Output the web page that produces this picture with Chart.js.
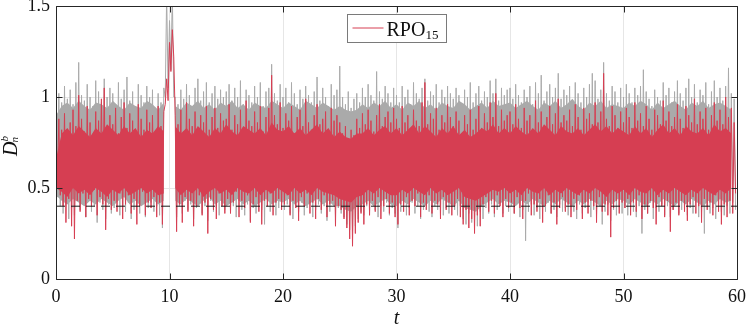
<!DOCTYPE html>
<html>
<head>
<meta charset="utf-8">
<script src="https://cdn.jsdelivr.net/npm/chart.js@4/dist/chart.umd.min.js"></script>
<style>
  html, body { margin: 0; padding: 0; background: #fff; }
  #wrap { width: 747px; height: 327px; }
</style>
</head>
<body>
<div id="wrap"><canvas id="chart" width="747" height="327"></canvas></div>
<script>
// sample spacing in t; each bin holds one high and one low sample
const STEP = 0.25;
// dense core of each signal, read every CORE_STEP (null = no dense core, at the burst)
const CORE_STEP = 0.5;
const THRESHOLD = 0.4;
const X_TICKS = [0, 10, 20, 30, 40, 50, 60];
const Y_TICKS = [0, 0.5, 1, 1.5];

const redHi = [
  0.66, 0.88, 0.82, 0.91, 0.79, 0.86, 0.93, 0.84, 1.01, 0.88, 0.81, 0.95, 0.86, 0.78, 0.92, 0.87, 0.99, 1.05, 0.83, 0.90,
  0.85, 0.94, 0.80, 0.89, 0.97, 0.83, 0.91, 0.87, 0.78, 0.96, 0.88, 0.82, 0.93, 0.86, 0.90, 0.80, 0.95, 0.84, 0.92, 1.10,
  1.30, 1.37, 0.90, 0.85, 0.93, 0.81, 0.97, 0.88, 0.84, 0.92, 0.79, 0.90, 0.86, 0.95, 0.82, 0.89, 0.94, 0.83, 0.91, 0.87,
  0.88, 0.96, 0.82, 0.90, 0.85, 0.93, 0.80, 0.98, 0.87, 0.84, 0.92, 0.86, 0.95, 0.81, 0.89, 0.94, 1.12, 0.90, 0.85, 0.97,
  0.83, 0.91, 0.87, 0.95, 0.80, 0.89, 0.93, 0.84, 0.99, 0.86, 0.82, 0.90, 0.96, 0.85, 0.88, 0.92, 0.79, 0.94, 0.87, 0.90,
  0.86, 0.80, 0.84, 0.77, 0.82, 0.79, 0.88, 0.83, 0.91, 0.85, 0.93, 0.87, 0.81, 0.90, 0.96, 0.84, 0.89, 0.92, 0.86, 0.94,
  0.88, 0.83, 0.95, 0.86, 0.90, 0.81, 0.93, 0.87, 0.84, 0.97, 1.08, 0.85, 0.91, 0.88, 0.94, 0.82, 0.90, 0.86, 0.96, 0.89,
  0.84, 0.92, 0.87, 0.80, 0.90, 0.85, 0.93, 0.82, 0.88, 0.95, 0.83, 0.91, 0.86, 0.97, 0.89, 1.02, 0.84, 0.93, 0.87, 0.90,
  0.92, 0.85, 0.96, 0.88, 0.83, 0.94, 0.87, 0.90, 0.81, 0.98, 0.86, 0.92, 0.84, 0.89, 0.95, 0.85, 0.91, 0.99, 0.86, 0.90,
  0.87, 0.93, 0.84, 0.96, 0.89, 0.82, 0.94, 0.88, 0.91, 0.85, 0.97, 0.86, 0.92, 1.13, 0.88, 0.84, 0.95, 0.90, 0.83, 0.92,
  0.86, 0.94, 0.89, 0.83, 0.97, 0.87, 0.91, 0.84, 0.95, 0.88, 0.82, 0.93, 0.90, 0.85, 0.98, 0.87, 0.92, 0.84, 0.89, 0.96,
  0.88, 0.83, 0.95, 0.90, 0.86, 0.99, 0.85, 0.92, 0.88, 0.94, 0.82, 0.90, 0.97, 0.87, 0.93, 0.85, 1.00, 0.89, 0.94, 0.86
];
const redLo = [
  0.52, 0.46, 0.40, 0.31, 0.44, 0.29, 0.22, 0.43, 0.37, 0.47, 0.34, 0.44, 0.40, 0.49, 0.35, 0.45, 0.41, 0.27, 0.44, 0.38,
  0.43, 0.37, 0.47, 0.33, 0.41, 0.46, 0.36, 0.44, 0.30, 0.40, 0.48, 0.35, 0.42, 0.39, 0.45, 0.34, 0.42, 0.30, 0.96, 0.98,
  1.14, 1.22, 0.26, 0.41, 0.31, 0.45, 0.37, 0.43, 0.29, 0.40, 0.46, 0.35, 0.42, 0.25, 0.44, 0.38, 0.33, 0.47, 0.40, 0.36,
  0.44, 0.36, 0.42, 0.48, 0.34, 0.43, 0.39, 0.46, 0.31, 0.41, 0.45, 0.37, 0.30, 0.43, 0.40, 0.47, 0.35, 0.42, 0.44, 0.38,
  0.41, 0.46, 0.35, 0.43, 0.39, 0.32, 0.45, 0.40, 0.47, 0.36, 0.42, 0.33, 0.44, 0.38, 0.46, 0.34, 0.41, 0.43, 0.29, 0.40,
  0.38, 0.33, 0.28, 0.22, 0.18, 0.25, 0.31, 0.36, 0.30, 0.41, 0.35, 0.43, 0.37, 0.45, 0.33, 0.40, 0.44, 0.36, 0.42, 0.34,
  0.30, 0.41, 0.37, 0.45, 0.35, 0.43, 0.40, 0.47, 0.34, 0.42, 0.38, 0.46, 0.36, 0.43, 0.41, 0.33, 0.45, 0.38, 0.42, 0.35,
  0.40, 0.44, 0.34, 0.30, 0.38, 0.28, 0.33, 0.25, 0.35, 0.29, 0.41, 0.45, 0.37, 0.43, 0.36, 0.46, 0.40, 0.34, 0.44, 0.39,
  0.42, 0.36, 0.45, 0.39, 0.33, 0.43, 0.47, 0.35, 0.41, 0.37, 0.44, 0.31, 0.40, 0.46, 0.36, 0.42, 0.30, 0.39, 0.45, 0.37,
  0.41, 0.34, 0.44, 0.38, 0.46, 0.33, 0.42, 0.36, 0.43, 0.40, 0.31, 0.45, 0.37, 0.41, 0.35, 0.23, 0.39, 0.43, 0.36, 0.42,
  0.39, 0.44, 0.35, 0.42, 0.37, 0.46, 0.33, 0.41, 0.36, 0.43, 0.39, 0.30, 0.45, 0.40, 0.34, 0.43, 0.26, 0.38, 0.42, 0.35,
  0.43, 0.37, 0.32, 0.41, 0.45, 0.36, 0.40, 0.31, 0.44, 0.38, 0.42, 0.35, 0.46, 0.37, 0.30, 0.41, 0.34, 0.43, 0.36, 0.47
];
const grayHi = [
  0.95, 1.02, 0.97, 1.06, 0.99, 1.04, 0.96, 1.08, 1.19, 1.01, 0.98, 1.07, 1.00, 0.95, 1.09, 1.03, 0.97, 1.10, 1.00, 1.05,
  1.02, 0.96, 1.08, 0.99, 1.04, 1.11, 0.98, 1.03, 0.95, 1.07, 1.01, 0.97, 1.06, 1.00, 1.04, 0.94, 1.02, 0.97, 1.05, 1.56,
  1.42, 1.56, 1.00, 0.96, 1.04, 0.99, 1.07, 1.01, 0.95, 1.05, 1.10, 0.98, 1.03, 1.08, 0.97, 1.02, 1.06, 0.99, 1.04, 1.00,
  1.03, 1.07, 0.98, 1.05, 1.00, 1.09, 0.96, 1.04, 1.01, 0.97, 1.06, 1.00, 1.08, 0.95, 1.03, 1.05, 1.18, 1.02, 0.98, 1.07,
  1.00, 1.05, 0.97, 1.08, 1.02, 0.96, 1.04, 0.99, 1.06, 1.01, 0.97, 1.03, 1.11, 0.98, 1.05, 1.00, 0.95, 1.07, 1.01, 1.04,
  1.17, 1.00, 0.96, 1.03, 0.94, 0.99, 1.02, 0.97, 1.05, 1.00, 1.07, 1.01, 0.98, 1.14, 1.03, 0.99, 1.06, 1.02, 0.97, 1.05,
  1.01, 0.97, 1.06, 1.00, 1.04, 0.96, 1.08, 1.02, 0.99, 1.05, 1.10, 0.98, 1.03, 1.01, 1.07, 0.97, 1.04, 1.00, 1.06, 1.02,
  0.99, 1.05, 1.01, 0.96, 1.04, 1.00, 1.08, 0.97, 1.02, 1.06, 0.98, 1.03, 1.00, 1.09, 1.02, 1.10, 0.98, 1.05, 1.01, 1.04,
  1.05, 0.99, 1.07, 1.01, 0.97, 1.04, 1.00, 1.06, 0.96, 1.08, 1.02, 1.12, 0.98, 1.03, 1.07, 1.00, 1.05, 1.13, 0.99, 1.04,
  1.01, 1.06, 0.98, 1.08, 1.02, 0.97, 1.05, 1.00, 1.07, 1.13, 1.09, 0.99, 1.04, 1.19, 1.02, 0.98, 1.06, 1.03, 0.97, 1.05,
  1.00, 1.07, 1.02, 0.97, 1.05, 1.01, 1.06, 1.15, 1.03, 0.99, 0.95, 1.04, 1.00, 0.98, 1.08, 1.01, 1.05, 0.97, 1.03, 1.09,
  1.02, 0.98, 1.05, 1.10, 1.00, 1.07, 0.97, 1.04, 1.01, 1.08, 0.96, 1.03, 1.09, 1.00, 1.05, 0.98, 1.06, 1.16, 1.02, 0.99
];
const grayLo = [
  0.45, 0.40, 0.36, 0.42, 0.33, 0.39, 0.35, 0.44, 0.38, 0.41, 0.34, 0.43, 0.37, 0.40, 0.31, 0.42, 0.38, 0.33, 0.41, 0.36,
  0.39, 0.43, 0.35, 0.40, 0.37, 0.42, 0.33, 0.38, 0.41, 0.36, 0.44, 0.34, 0.39, 0.42, 0.37, 0.40, 0.35, 0.28, 1.00, 1.05,
  1.15, 1.00, 0.34, 0.40, 0.36, 0.43, 0.38, 0.41, 0.33, 0.39, 0.42, 0.36, 0.40, 0.32, 0.43, 0.37, 0.39, 0.35, 0.41, 0.38,
  0.42, 0.37, 0.40, 0.34, 0.43, 0.38, 0.35, 0.41, 0.32, 0.39, 0.36, 0.42, 0.38, 0.30, 0.40, 0.37, 0.43, 0.35, 0.39, 0.41,
  0.38, 0.41, 0.36, 0.33, 0.40, 0.37, 0.42, 0.35, 0.39, 0.43, 0.34, 0.38, 0.41, 0.36, 0.40, 0.32, 0.37, 0.42, 0.35, 0.39,
  0.36, 0.34, 0.30, 0.27, 0.26, 0.29, 0.33, 0.37, 0.35, 0.40, 0.36, 0.41, 0.38, 0.34, 0.40, 0.37, 0.42, 0.35, 0.39, 0.36,
  0.28, 0.37, 0.41, 0.35, 0.39, 0.42, 0.36, 0.40, 0.33, 0.38, 0.43, 0.37, 0.34, 0.40, 0.38, 0.41, 0.35, 0.39, 0.36, 0.42,
  0.38, 0.35, 0.40, 0.33, 0.30, 0.36, 0.31, 0.34, 0.29, 0.37, 0.33, 0.39, 0.36, 0.41, 0.34, 0.38, 0.42, 0.36, 0.40, 0.37,
  0.40, 0.36, 0.42, 0.34, 0.38, 0.21, 0.37, 0.41, 0.35, 0.39, 0.33, 0.40, 0.37, 0.42, 0.36, 0.38, 0.34, 0.41, 0.37, 0.39,
  0.35, 0.40, 0.37, 0.33, 0.41, 0.36, 0.39, 0.42, 0.34, 0.38, 0.36, 0.40, 0.30, 0.37, 0.41, 0.32, 0.38, 0.35, 0.40, 0.36,
  0.39, 0.35, 0.41, 0.37, 0.34, 0.40, 0.25, 0.38, 0.36, 0.42, 0.33, 0.39, 0.37, 0.41, 0.35, 0.40, 0.34, 0.38, 0.42, 0.36,
  0.38, 0.41, 0.35, 0.39, 0.36, 0.42, 0.34, 0.37, 0.25, 0.40, 0.36, 0.39, 0.33, 0.41, 0.37, 0.35, 0.40, 0.36, 0.42, 0.38
];

const redCoreTop = [
  0.66, 0.80, 0.83, 0.79, 0.84, 0.81, 0.78, 0.83, 0.80, 0.85, 0.82, 0.79, 0.84, 0.80, 0.83, 0.78, 0.82, 0.80, 0.84, 0.81,
  null, 0.84, 0.80, 0.83, 0.79, 0.84, 0.81, 0.78, 0.83, 0.80, 0.85, 0.81, 0.79, 0.84, 0.82, 0.80, 0.83, 0.79, 0.86, 0.82,
  0.81, 0.84, 0.80, 0.83, 0.79, 0.82, 0.85, 0.80, 0.83, 0.78, 0.81, 0.78, 0.77, 0.80, 0.80, 0.83, 0.79, 0.82, 0.84, 0.80,
  0.83, 0.79, 0.82, 0.85, 0.80, 0.84, 0.81, 0.78, 0.83, 0.80, 0.84, 0.79, 0.82, 0.78, 0.80, 0.83, 0.81, 0.85, 0.80, 0.83,
  0.80, 0.84, 0.81, 0.79, 0.83, 0.80, 0.85, 0.82, 0.79, 0.84, 0.81, 0.80, 0.83, 0.79, 0.82, 0.85, 0.81, 0.84, 0.80, 0.83,
  0.81, 0.79, 0.84, 0.80, 0.83, 0.78, 0.82, 0.85, 0.80, 0.83, 0.79, 0.84, 0.81, 0.80, 0.83, 0.79, 0.85, 0.81, 0.83, 0.80
];
const redCoreBottom = [
  0.50, 0.48, 0.45, 0.50, 0.47, 0.49, 0.46, 0.50, 0.48, 0.45, 0.49, 0.47, 0.50, 0.46, 0.48, 0.50, 0.47, 0.49, 0.46, 0.47,
  null, 0.50, 0.46, 0.49, 0.47, 0.50, 0.45, 0.48, 0.50, 0.47, 0.49, 0.46, 0.50, 0.48, 0.47, 0.50, 0.46, 0.49, 0.47, 0.50,
  0.48, 0.46, 0.50, 0.47, 0.49, 0.46, 0.50, 0.48, 0.47, 0.46, 0.44, 0.43, 0.42, 0.45, 0.46, 0.49, 0.47, 0.50, 0.48, 0.46,
  0.46, 0.49, 0.47, 0.50, 0.48, 0.46, 0.50, 0.47, 0.49, 0.46, 0.48, 0.50, 0.45, 0.44, 0.43, 0.45, 0.47, 0.49, 0.48, 0.50,
  0.47, 0.49, 0.46, 0.50, 0.48, 0.47, 0.50, 0.46, 0.49, 0.47, 0.50, 0.48, 0.46, 0.49, 0.47, 0.50, 0.48, 0.45, 0.49, 0.47,
  0.49, 0.46, 0.50, 0.48, 0.47, 0.50, 0.46, 0.49, 0.47, 0.50, 0.48, 0.46, 0.49, 0.47, 0.50, 0.48, 0.46, 0.49, 0.47, 0.50
];
const grayCoreTop = [
  0.90, 0.95, 0.97, 0.94, 0.98, 0.95, 0.93, 0.97, 0.96, 0.94, 0.98, 0.95, 0.93, 0.97, 0.95, 0.94, 0.98, 0.96, 0.93, 0.97,
  null, 0.95, 0.93, 0.97, 0.95, 0.98, 0.94, 0.96, 0.93, 0.97, 0.95, 0.98, 0.94, 0.96, 0.93, 0.97, 0.95, 0.94, 0.98, 0.96,
  0.94, 0.97, 0.95, 0.93, 0.98, 0.96, 0.94, 0.97, 0.95, 0.93, 0.95, 0.93, 0.92, 0.93, 0.96, 0.94, 0.97, 0.95, 0.98, 0.94,
  0.96, 0.93, 0.97, 0.95, 0.98, 0.94, 0.96, 0.93, 0.97, 0.95, 0.94, 0.98, 0.96, 0.93, 0.95, 0.97, 0.94, 0.98, 0.95, 0.96,
  0.97, 0.94, 0.96, 0.98, 0.95, 0.93, 0.97, 0.95, 0.98, 0.94, 0.96, 0.99, 0.95, 0.93, 0.97, 0.95, 0.98, 0.94, 0.96, 0.95,
  0.94, 0.97, 0.95, 0.98, 0.96, 0.93, 0.97, 0.94, 0.96, 0.98, 0.95, 0.93, 0.97, 0.95, 0.98, 0.94, 0.96, 0.97, 0.95, 0.93
];
const grayCoreBottom = [
  0.46, 0.43, 0.41, 0.44, 0.42, 0.40, 0.43, 0.41, 0.44, 0.42, 0.40, 0.43, 0.45, 0.41, 0.43, 0.40, 0.42, 0.44, 0.41, 0.43,
  null, 0.43, 0.41, 0.44, 0.42, 0.40, 0.43, 0.45, 0.41, 0.43, 0.40, 0.42, 0.44, 0.41, 0.43, 0.40, 0.42, 0.44, 0.41, 0.43,
  0.42, 0.44, 0.41, 0.43, 0.40, 0.42, 0.44, 0.41, 0.43, 0.40, 0.40, 0.38, 0.37, 0.40, 0.41, 0.43, 0.40, 0.42, 0.44, 0.41,
  0.40, 0.43, 0.41, 0.44, 0.42, 0.40, 0.43, 0.41, 0.44, 0.42, 0.40, 0.43, 0.39, 0.38, 0.37, 0.40, 0.42, 0.44, 0.41, 0.43,
  0.42, 0.40, 0.43, 0.41, 0.44, 0.42, 0.40, 0.43, 0.41, 0.44, 0.42, 0.40, 0.43, 0.41, 0.44, 0.42, 0.40, 0.43, 0.41, 0.44,
  0.43, 0.41, 0.44, 0.42, 0.40, 0.43, 0.41, 0.44, 0.42, 0.40, 0.43, 0.41, 0.44, 0.42, 0.40, 0.43, 0.41, 0.44, 0.42, 0.43
];

const RED = 'rgb(214, 62, 82)';
const GRAY = 'rgb(170, 170, 170)';
const INK = '#262626';
const FONT = "'Liberation Serif', 'DejaVu Serif', serif";

// raw signal: high at the start of each bin, low half a step later
function signal(hi, lo) {
  const pts = [];
  for (let k = 0; k < hi.length; k++) {
    pts.push({ x: k * STEP, y: hi[k] });
    pts.push({ x: k * STEP + STEP / 2, y: lo[k] });
  }
  return pts;
}
const core = arr => arr.map((v, k) => ({ x: k * CORE_STEP, y: v }));

const framePlugin = {
  id: 'frame',
  afterDraw(chart) {
    const { ctx, chartArea: a, scales } = chart;
    const L = Math.round(a.left) + 0.5, R = Math.round(a.right) + 0.5;
    const T = Math.round(a.top) + 0.5, B = Math.round(a.bottom) + 0.5;
    ctx.save();
    ctx.strokeStyle = INK;
    ctx.lineWidth = 1;
    ctx.beginPath();
    ctx.rect(L, T, R - L, B - T);
    // inward ticks on all four sides
    X_TICKS.forEach(v => {
      const px = Math.round(scales.x.getPixelForValue(v)) + 0.5;
      ctx.moveTo(px, B); ctx.lineTo(px, B - 6);
      ctx.moveTo(px, T); ctx.lineTo(px, T + 6);
    });
    Y_TICKS.forEach(v => {
      const py = Math.round(scales.y.getPixelForValue(v)) + 0.5;
      ctx.moveTo(L, py); ctx.lineTo(L + 6, py);
      ctx.moveTo(R, py); ctx.lineTo(R - 6, py);
    });
    ctx.stroke();

    // legend box
    const lw = 99, lh = 28;
    const lx = Math.round((a.left + a.right) / 2 - lw / 2) + 0.5, ly = 14.5;
    ctx.fillStyle = '#fff';
    ctx.fillRect(lx, ly, lw, lh);
    ctx.strokeStyle = '#7a7a7a';
    ctx.strokeRect(lx, ly, lw, lh);
    ctx.strokeStyle = RED;
    ctx.beginPath();
    ctx.moveTo(lx + 5, ly + 13.5);
    ctx.lineTo(lx + 36, ly + 13.5);
    ctx.stroke();
    ctx.fillStyle = '#111';
    ctx.textBaseline = 'alphabetic';
    ctx.font = '20px ' + FONT;
    ctx.fillText('RPO', lx + 39, ly + 21);
    const w = ctx.measureText('RPO').width;
    ctx.font = '13px ' + FONT;
    ctx.fillText('15', lx + 39 + w, ly + 24);

    // y axis title D_n^b
    ctx.translate(17, 156);
    ctx.rotate(-Math.PI / 2);
    ctx.font = 'italic 20px ' + FONT;
    ctx.fillText('D', 0, 0);
    const dw = ctx.measureText('D').width;
    ctx.font = 'italic 11px ' + FONT;
    ctx.fillText('b', dw, -9);
    ctx.fillText('n', dw - 1, 1);
    ctx.restore();
  }
};

const series = (label, data, color, order, fill, width) => ({
  label, data, order,
  fill: fill || false,
  spanGaps: false,
  borderColor: color,
  backgroundColor: color,
  borderWidth: width,
  pointRadius: 0
});

new Chart(document.getElementById('chart'), {
  type: 'line',
  data: {
    datasets: [
      {
        label: 'threshold',
        data: [{ x: 0, y: THRESHOLD }, { x: 60, y: THRESHOLD }],
        borderColor: '#1a1a1a',
        borderWidth: 1,
        borderDash: [9, 6],
        pointRadius: 0,
        fill: false,
        order: 0
      },
      series('RPO15', signal(redHi, redLo), RED, 1, false, 1),
      series('RPO15 core', core(redCoreTop), RED, 2, '+1', 0),
      series('RPO15 core low', core(redCoreBottom), RED, 3, false, 0),
      series('reference', signal(grayHi, grayLo), GRAY, 4, false, 1),
      series('reference core', core(grayCoreTop), GRAY, 5, '+1', 0),
      series('reference core low', core(grayCoreBottom), GRAY, 6, false, 0)
    ]
  },
  options: {
    responsive: false,
    animation: false,
    devicePixelRatio: 1,
    layout: { padding: { left: 0, right: 10, top: 6, bottom: 0 } },
    plugins: { legend: { display: false }, tooltip: { enabled: false } },
    scales: {
      x: {
        type: 'linear',
        min: 0,
        max: 60,
        afterBuildTicks: s => { s.ticks = X_TICKS.map(v => ({ value: v })); },
        afterFit: s => { s.height = 48; s.paddingLeft = 0; s.paddingRight = 0; },
        ticks: { font: { family: FONT, size: 18 }, color: '#111', padding: 7, maxRotation: 0, callback: v => String(v) },
        grid: { color: '#e6e6e6', drawTicks: false },
        border: { display: false },
        title: { display: true, text: 't', font: { family: FONT, size: 20, style: 'italic' }, color: '#111', padding: { top: 0, bottom: -4 } }
      },
      y: {
        min: 0,
        max: 1.5,
        afterBuildTicks: s => { s.ticks = Y_TICKS.map(v => ({ value: v })); },
        afterFit: s => { s.width = 56; s.paddingTop = 0; s.paddingBottom = 0; },
        ticks: { font: { family: FONT, size: 18 }, color: '#111', padding: 6, callback: v => String(v) },
        grid: { color: '#e6e6e6', drawTicks: false },
        border: { display: false }
      }
    }
  },
  plugins: [framePlugin]
});
</script>
</body>
</html>
